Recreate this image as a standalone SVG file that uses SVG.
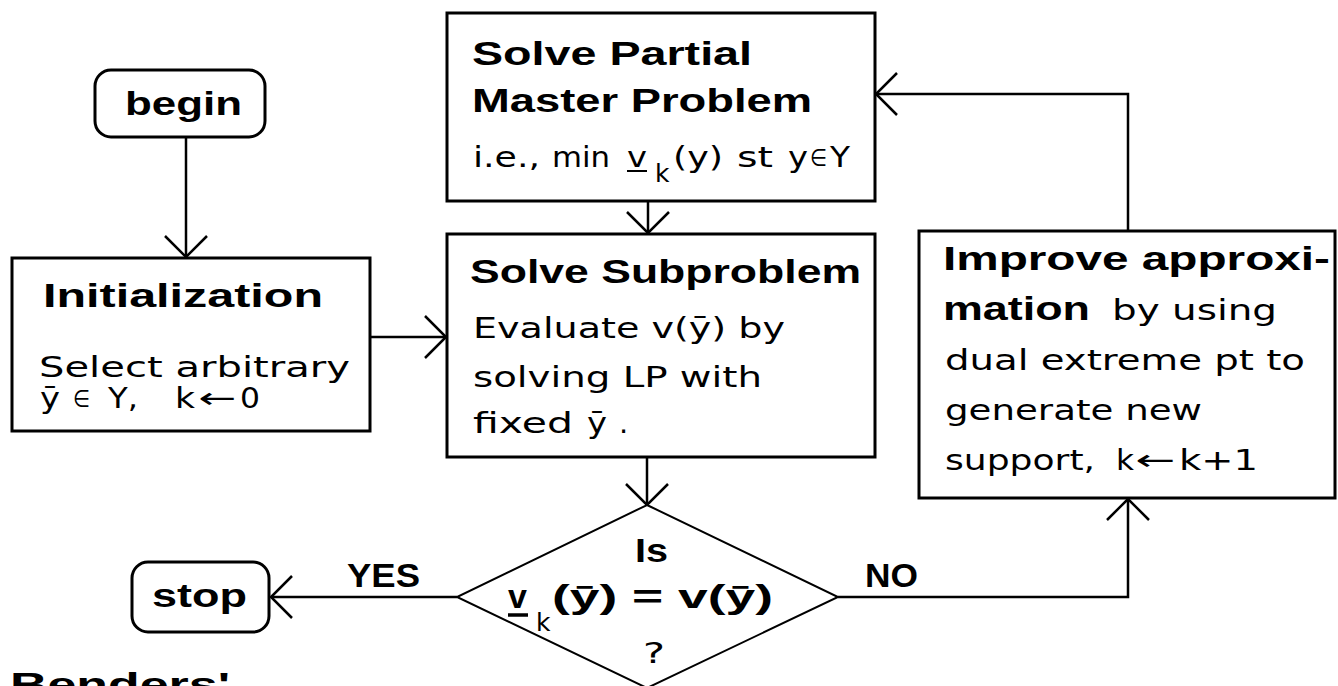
<svg xmlns="http://www.w3.org/2000/svg" width="1338" height="686" viewBox="0 0 1338 686">
<style>
.box{fill:#fff;stroke:#000;stroke-width:3}
.dia{fill:#fff;stroke:#000;stroke-width:2}
.con{fill:none;stroke:#000;stroke-width:2.5}
.b{font-family:"Liberation Sans",Arial,sans-serif;font-weight:bold;font-size:34px;fill:#000}
.n{font-family:"DejaVu Sans",sans-serif;font-size:29px;fill:#000}
.s{font-family:"DejaVu Sans",sans-serif;font-size:25px;fill:#000}
.el{font-family:"DejaVu Sans",sans-serif;font-size:24px;fill:#000}
</style>
<defs>
<marker id="arr" markerUnits="userSpaceOnUse" viewBox="-25 -25 50 50" markerWidth="50" markerHeight="50" refX="0" refY="0" orient="auto">
<path d="M-21 -21 L0 0 L-21 21" fill="none" stroke="#000" stroke-width="2.5"/>
</marker>
</defs>
<rect width="1338" height="686" fill="#fff"/>
<g id="connectors">
<path class="con" d="M186 137 V257" marker-end="url(#arr)"/>
<path class="con" d="M370 337 H446" marker-end="url(#arr)"/>
<path class="con" d="M648 201 V233" marker-end="url(#arr)"/>
<path class="con" d="M647 457 V505" marker-end="url(#arr)"/>
<path class="con" d="M457 597 H271" marker-end="url(#arr)"/>
<path class="con" d="M838 597 H1128 V499" marker-end="url(#arr)"/>
<path class="con" d="M1128 231 V94 H876" marker-end="url(#arr)"/>
<text class="b" x="347" y="587" textLength="73" lengthAdjust="spacingAndGlyphs">YES</text>
<text class="b" x="865" y="587" textLength="53" lengthAdjust="spacingAndGlyphs">NO</text>
</g>
<g id="begin">
<rect class="box" x="95" y="70" width="170" height="67" rx="16"/>
<text class="b" x="125" y="115" textLength="117" lengthAdjust="spacingAndGlyphs">begin</text>
</g>
<g id="master">
<rect class="box" x="447" y="13" width="428" height="188"/>
<text class="b" x="472" y="65" textLength="280" lengthAdjust="spacingAndGlyphs">Solve Partial</text>
<text class="b" x="472" y="112" textLength="340" lengthAdjust="spacingAndGlyphs">Master Problem</text>
<text class="n" x="473" y="167" textLength="67" lengthAdjust="spacingAndGlyphs">i.e.,</text>
<text class="n" x="552" y="167" textLength="58" lengthAdjust="spacingAndGlyphs">min</text>
<text class="n" x="627" y="167" textLength="20" lengthAdjust="spacingAndGlyphs">v</text>
<line x1="627" y1="171" x2="647" y2="171" stroke="#000" stroke-width="2"/>
<text class="s" x="655" y="182">k</text>
<text class="n" x="673" y="167" textLength="50" lengthAdjust="spacingAndGlyphs">(y)</text>
<text class="n" x="737" y="167" textLength="36" lengthAdjust="spacingAndGlyphs">st</text>
<text class="n" x="788" y="167" textLength="20" lengthAdjust="spacingAndGlyphs">y</text>
<text class="el" x="810" y="166" textLength="17" lengthAdjust="spacingAndGlyphs">∈</text>
<text class="n" x="830" y="167" textLength="20" lengthAdjust="spacingAndGlyphs">Y</text>
</g>
<g id="init">
<rect class="box" x="12" y="258" width="358" height="173"/>
<text class="b" x="43" y="307" textLength="280" lengthAdjust="spacingAndGlyphs">Initialization</text>
<text class="n" x="39" y="377" textLength="311" lengthAdjust="spacingAndGlyphs">Select arbitrary</text>
<text class="n" x="40" y="408" textLength="20" lengthAdjust="spacingAndGlyphs">ȳ</text>
<text class="el" x="73" y="407" textLength="17" lengthAdjust="spacingAndGlyphs">∈</text>
<text class="n" x="108" y="408" textLength="30" lengthAdjust="spacingAndGlyphs">Y,</text>
<text class="n" x="175" y="408" textLength="20" lengthAdjust="spacingAndGlyphs">k</text>
<text class="n" x="198" y="408" textLength="38" lengthAdjust="spacingAndGlyphs">←</text>
<text class="n" x="240" y="408" textLength="20" lengthAdjust="spacingAndGlyphs">0</text>
</g>
<g id="sub">
<rect class="box" x="447" y="234" width="428" height="223"/>
<text class="b" x="470" y="283" textLength="391" lengthAdjust="spacingAndGlyphs">Solve Subproblem</text>
<text class="n" x="473" y="338" textLength="312" lengthAdjust="spacingAndGlyphs">Evaluate v(ȳ) by</text>
<text class="n" x="473" y="387" textLength="289" lengthAdjust="spacingAndGlyphs">solving LP with</text>
<text class="n" x="473" y="433" textLength="100" lengthAdjust="spacingAndGlyphs">fixed</text>
<text class="n" x="587" y="433" textLength="20" lengthAdjust="spacingAndGlyphs">ȳ</text>
<text class="n" x="619" y="433">.</text>
</g>
<g id="improve">
<rect class="box" x="919" y="231" width="416" height="267"/>
<text class="b" x="943" y="270" textLength="387" lengthAdjust="spacingAndGlyphs">Improve approxi-</text>
<text class="b" x="943" y="320" textLength="147" lengthAdjust="spacingAndGlyphs">mation</text>
<text class="n" x="1112" y="320" textLength="165" lengthAdjust="spacingAndGlyphs">by using</text>
<text class="n" x="945" y="370" textLength="360" lengthAdjust="spacingAndGlyphs">dual extreme pt to</text>
<text class="n" x="945" y="420" textLength="257" lengthAdjust="spacingAndGlyphs">generate new</text>
<text class="n" x="945" y="470" textLength="150" lengthAdjust="spacingAndGlyphs">support,</text>
<text class="n" x="1116" y="470" textLength="18" lengthAdjust="spacingAndGlyphs">k</text>
<text class="n" x="1135" y="470" textLength="40" lengthAdjust="spacingAndGlyphs">←</text>
<text class="n" x="1179" y="470" textLength="79" lengthAdjust="spacingAndGlyphs">k+1</text>
</g>
<g id="decision">
<polygon class="dia" points="647,505 838,597 647,688 457,597"/>
<text class="b" x="635" y="562" textLength="33" lengthAdjust="spacingAndGlyphs">Is</text>
<text class="b" x="508" y="608">v</text>
<line x1="508" y1="615" x2="528" y2="615" stroke="#000" stroke-width="3.5"/>
<text class="s" x="536" y="631">k</text>
<text class="b" x="552" y="608" textLength="221" lengthAdjust="spacingAndGlyphs">(ȳ) = v(ȳ)</text>
<text class="n" x="643" y="663" font-size="40" textLength="22" lengthAdjust="spacingAndGlyphs">?</text>
</g>
<g id="stop">
<rect class="box" x="132" y="562" width="137" height="70" rx="16"/>
<text class="b" x="152" y="607" textLength="95" lengthAdjust="spacingAndGlyphs">stop</text>
</g>
<g id="caption">
<text class="b" x="10" y="696" textLength="220" lengthAdjust="spacingAndGlyphs">Benders'</text>
</g>
</svg>
